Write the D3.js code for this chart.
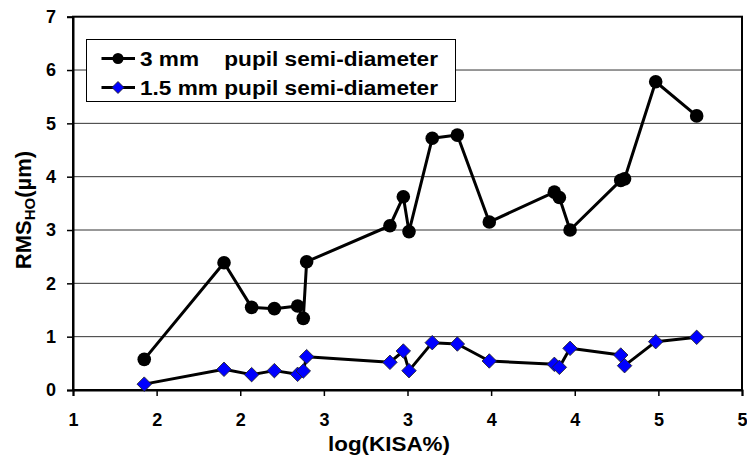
<!DOCTYPE html>
<html>
<head>
<meta charset="utf-8">
<script src="https://d3js.org/d3.v7.min.js"></script>
<style>
  body { margin: 0; background: #fff; }
  svg { display: block; font-family: "Liberation Sans", Arial, sans-serif; font-weight: bold; }
</style>
</head>
<body>
<script>
'use strict';

// log(KISA%) of each eye, shared by both series
const kisaLog = [1.426, 1.903, 2.068, 2.204, 2.343, 2.377, 2.397, 2.895, 2.975, 3.009,
                 3.148, 3.298, 3.489, 3.878, 3.908, 3.972, 4.275, 4.298, 4.484, 4.729];
// RMS HO (um), 3 mm pupil semi-diameter
const rms3mm = [0.575, 2.387, 1.55, 1.525, 1.575, 1.344, 2.406, 3.08, 3.625, 2.97,
                4.72, 4.78, 3.15, 3.71, 3.61, 3.0, 3.93, 3.96, 5.78, 5.14];
// RMS HO (um), 1.5 mm pupil semi-diameter
const rms15mm = [0.11, 0.388, 0.288, 0.363, 0.294, 0.356, 0.625, 0.519, 0.731, 0.363,
                 0.888, 0.8625, 0.544, 0.481, 0.425, 0.781, 0.656, 0.456, 0.906, 0.988];
const seriesNames = ["3 mm    pupil semi-diameter", "1.5 mm pupil semi-diameter"];
const xTicks = [1, 1.5, 2, 2.5, 3, 3.5, 4, 4.5, 5];
const yTicks = [0, 1, 2, 3, 4, 5, 6, 7];

(function() {

  let svgContainer = "";

  window.onload = function() {
    svgContainer = d3.select('body')
      .append('svg')
      .attr('width', 747)
      .attr('height', 460);

    let scales = drawAxes();
    plotData(scales);
    makeLegend();
    makeLabels();
  }

  // draw grid, plot frame, ticks
  function drawAxes() {
    let xScale = d3.scaleLinear().domain([1, 5]).range([73, 742]);
    let yScale = d3.scaleLinear().domain([0, 7]).range([390, 16.7]);

    // horizontal gridlines
    svgContainer.append('g')
      .selectAll('line')
      .data(yTicks.slice(1, -1))
      .enter()
      .append('line')
        .attr('x1', xScale(1))
        .attr('x2', xScale(5))
        .attr('y1', (d) => yScale(d))
        .attr('y2', (d) => yScale(d))
        .attr('stroke', '#333')
        .attr('stroke-width', 1);

    // plot frame
    svgContainer.append('rect')
      .attr('x', xScale(1))
      .attr('y', yScale(7))
      .attr('width', xScale(5) - xScale(1))
      .attr('height', yScale(0) - yScale(7))
      .attr('fill', 'none')
      .attr('stroke', '#000')
      .attr('stroke-width', 2);

    // x axis: ticks shown rounded to whole numbers
    let xAxis = d3.axisBottom(xScale)
      .tickValues(xTicks)
      .tickFormat(d3.format('.0f'))
      .tickSize(6)
      .tickPadding(17);
    let gx = svgContainer.append('g')
      .attr('transform', 'translate(0, ' + yScale(0) + ')')
      .call(xAxis);

    let yAxis = d3.axisLeft(yScale)
      .tickValues(yTicks)
      .tickFormat(d3.format('d'))
      .tickSize(6)
      .tickPadding(11);
    let gy = svgContainer.append('g')
      .attr('transform', 'translate(' + xScale(1) + ', 0)')
      .call(yAxis);

    [gx, gy].forEach((g) => {
      g.attr('font-size', null).attr('font-family', null);
      g.select('.domain').attr('stroke', '#000').attr('stroke-width', 2);
      g.selectAll('.tick line').attr('stroke', '#000').attr('stroke-width', 1.5);
      g.selectAll('.tick text')
        .attr('fill', '#000')
        .style('font-family', '"Liberation Sans", Arial, sans-serif')
        .style('font-weight', 'bold')
        .style('font-size', '18px');
    });

    return { x: xScale, y: yScale };
  }

  // lines and markers for both series
  function plotData(map) {
    let pts3 = kisaLog.map((x, i) => ({ x: x, y: rms3mm[i] }));
    let pts15 = kisaLog.map((x, i) => ({ x: x, y: rms15mm[i] }));

    let line = d3.line()
      .x((d) => map.x(d.x))
      .y((d) => map.y(d.y));

    [pts3, pts15].forEach((pts) => {
      svgContainer.append('path')
        .datum(pts)
        .attr('d', line)
        .attr('fill', 'none')
        .attr('stroke', '#000')
        .attr('stroke-width', 3)
        .attr('stroke-linejoin', 'round');
    });

    svgContainer.selectAll('.dot')
      .data(pts3)
      .enter()
      .append('circle')
        .attr('class', 'dot')
        .attr('cx', (d) => map.x(d.x))
        .attr('cy', (d) => map.y(d.y))
        .attr('r', 6.8)
        .attr('fill', '#000');

    let diamond = d3.symbol().type(d3.symbolSquare).size(105);
    svgContainer.selectAll('.diamond')
      .data(pts15)
      .enter()
      .append('path')
        .attr('class', 'diamond')
        .attr('d', diamond)
        .attr('transform', (d) => 'translate(' + map.x(d.x) + ',' + map.y(d.y) + ')rotate(45)')
        .attr('fill', '#0000ff')
        .attr('stroke', '#222')
        .attr('stroke-width', 0.8);
  }

  // legend box in upper left
  function makeLegend() {
    let legend = svgContainer.append('g');

    legend.append('rect')
      .attr('x', 86.5)
      .attr('y', 39.5)
      .attr('width', 369)
      .attr('height', 62)
      .attr('fill', '#fff')
      .attr('stroke', '#000')
      .attr('stroke-width', 1);

    let rowY = [58.5, 87.5];

    rowY.forEach((y, i) => {
      legend.append('line')
        .attr('x1', 101.5).attr('x2', 135)
        .attr('y1', y).attr('y2', y)
        .attr('stroke', '#000')
        .attr('stroke-width', 3);

      legend.append('text')
        .attr('x', 140)
        .attr('y', y + 7)
        .attr('textLength', 298)
        .attr('lengthAdjust', 'spacingAndGlyphs')
        .style('white-space', 'pre')
        .style('font-size', '20px')
        .text(seriesNames[i]);
    });

    legend.append('circle')
      .attr('cx', 118).attr('cy', rowY[0])
      .attr('r', 5.5)
      .attr('fill', '#000');

    legend.append('path')
      .attr('d', d3.symbol().type(d3.symbolSquare).size(72))
      .attr('transform', 'translate(118,' + rowY[1] + ')rotate(45)')
      .attr('fill', '#0000ff')
      .attr('stroke', '#222')
      .attr('stroke-width', 0.8);
  }

  // axis titles
  function makeLabels() {
    svgContainer.append('text')
      .attr('x', 389)
      .attr('y', 451)
      .attr('text-anchor', 'middle')
      .attr('textLength', 122)
      .attr('lengthAdjust', 'spacingAndGlyphs')
      .style('font-size', '20px')
      .text('log(KISA%)');

    let yTitle = svgContainer.append('text')
      .attr('transform', 'translate(31, 210)rotate(-90)')
      .attr('text-anchor', 'middle')
      .style('font-size', '22px');
    yTitle.append('tspan').text('RMS');
    yTitle.append('tspan')
      .attr('dy', 4)
      .style('font-size', '15px')
      .text('HO');
    yTitle.append('tspan')
      .attr('dy', -4)
      .text('(\u00b5m)');
  }

})();
</script>
</body>
</html>
